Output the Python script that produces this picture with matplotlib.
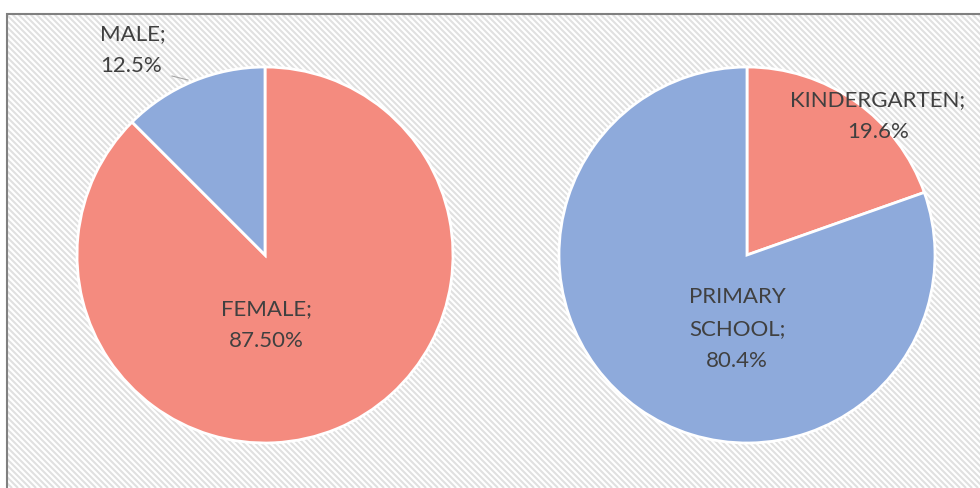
import matplotlib
matplotlib.use('Agg')
import matplotlib.pyplot as plt
import numpy as np
from matplotlib.patches import Rectangle
from matplotlib.collections import LineCollection

plt.rcParams['font.family'] = ['Lato', 'DejaVu Sans']

# data
gender_labels = ['FEMALE', 'MALE']
gender_values = [87.5, 12.5]
gender_text = ['87.50%', '12.5%']
school_labels = ['KINDERGARTEN', 'PRIMARY\nSCHOOL']
school_values = [19.6, 80.4]
school_text = ['19.6%', '80.4%']

salmon = '#f48b7f'
blue = '#8eaadb'
txt = '#404040'

W, H = 980, 488
fig = plt.figure(figsize=(9.8, 4.88), dpi=100)
ax = fig.add_axes([0, 0, 1, 1])

# chart area: white with diagonal stripes, grey border on top
bg = Rectangle((7, -20), W + 50, H - 14 + 20, facecolor='white', linewidth=0, zorder=0.5)
ax.add_patch(bg)
starts = np.arange(-H, W + 20, 6.0)
segs = [[(s, H), (s + H, 0)] for s in starts]
lc = LineCollection(segs, colors='#e0e0e0', linewidths=1.5, zorder=0.6)
ax.add_collection(lc)
lc.set_clip_path(bg)
ax.add_patch(Rectangle((7, -20), W + 50, H - 14 + 20, facecolor='none',
                       edgecolor='#808080', linewidth=1.5, zorder=0.7))

wp = dict(edgecolor='white', linewidth=2)
ax.pie(gender_values, colors=[salmon, blue], startangle=90, counterclock=False,
       center=(265, H - 255), radius=188, wedgeprops=wp, frame=True)
ax.pie(school_values, colors=[salmon, blue], startangle=90, counterclock=False,
       center=(747, H - 255), radius=188, wedgeprops=wp, frame=True)
for p in ax.patches[2:]:
    p.set_zorder(1)
ax.set_xlim(0, W)
ax.set_ylim(0, H)
ax.set_aspect('auto')
ax.axis('off')

fs = 16
ls = 1.75
ax.text(100, H - 50, f'{gender_labels[1]};\n{gender_text[1]}', ha='left', va='center',
        fontsize=fs, color=txt, linespacing=ls, zorder=3)
ax.plot([172, 188], [H - 76, H - 80], color='#a6a6a6', linewidth=0.8, zorder=3)
ax.text(266, H - 325, f'{gender_labels[0]};\n{gender_text[0]}', ha='center', va='center',
        fontsize=fs, color=txt, linespacing=ls, zorder=3)
ax.text(878, H - 116, f'{school_labels[0]};\n{school_text[0]}', ha='center', va='center',
        fontsize=fs, color=txt, linespacing=ls, zorder=3)
ax.text(737, H - 329, f'{school_labels[1]};\n{school_text[1]}', ha='center', va='center',
        fontsize=fs, color=txt, linespacing=ls, zorder=3)

fig.savefig('out.png', dpi=100)
